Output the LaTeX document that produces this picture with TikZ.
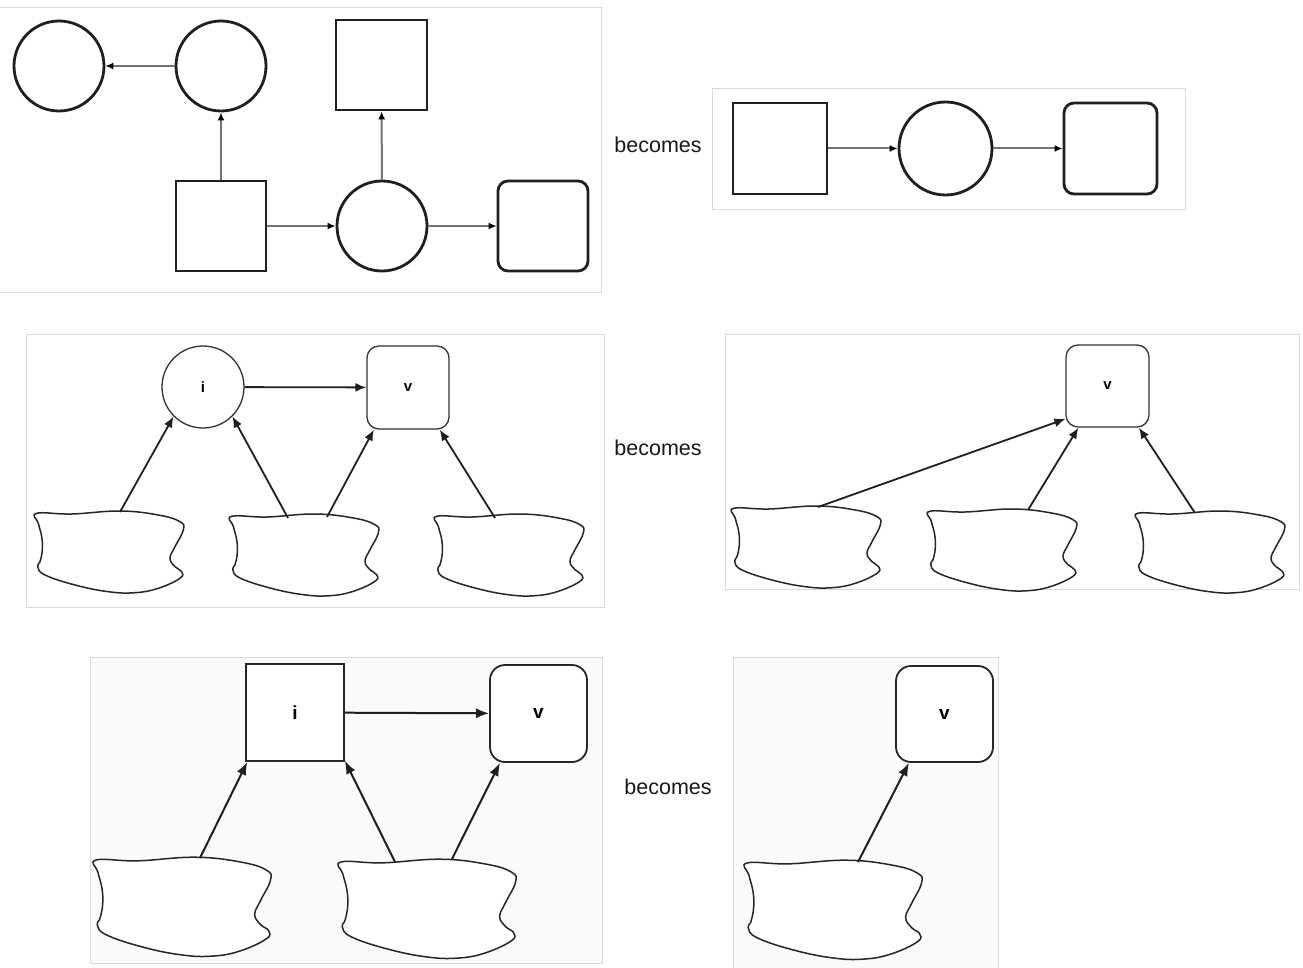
\documentclass[tikz,border=0pt]{standalone}
\usepackage{fontspec}
\setmainfont{Liberation Sans}
\usetikzlibrary{arrows.meta}
\tikzset{
  frame/.style={draw=black!14, line width=1pt},
  thick1/.style={draw=black!88, line width=2.8pt, inner sep=0pt, fill=white},
  thin3/.style={draw=black!80, line width=1.3pt, inner sep=0pt, fill=white},
  mid5/.style={draw=black!85, line width=1.8pt, inner sep=0pt, fill=white},
  arrA/.style={draw=black!55, line width=2pt, -{Latex[length=8pt,width=7pt,fill=black,color=black]}},
  arrB/.style={draw=black!88, line width=1.8pt, -{Latex[length=11pt,width=9pt]}},
  arrC/.style={draw=black!88, line width=2pt, -{Latex[length=13pt,width=10pt]}},
  cloudline/.style={draw=black!85, line width=1.5pt, fill=white},
  lab3/.style={font=\fontsize{15}{17}\selectfont\bfseries},
  lab5/.style={font=\fontsize{19}{21}\selectfont\bfseries},
  becomestext/.style={font=\fontsize{21.5}{24}\selectfont, text=black!90},
  cloud/.pic={
    \path[cloudline] plot[smooth cycle, tension=0.7] coordinates {
      (1.7,3.3) (36.7,4) (85,1) (123.3,5) (145,11.7) (148.3,20) (140,36.7)
      (135,48.3) (140,56.7) (146.7,61.7) (145,68.3) (123.3,78.3) (100,82.7)
      (73.3,81.7) (40,75) (10,65) (2.7,56.7) (5,51.7) (7.3,40) (6.7,26.7) (3.3,13.3)};
  }
}
\begin{document}
\begin{tikzpicture}[x=1pt,y=-1pt]
\useasboundingbox (0,0) rectangle (1303,968);
\clip (0,0) rectangle (1303,968);
% frames
\draw[frame, fill=white] (-2,8) rectangle (601,292);
\draw[frame, fill=white] (712,89) rectangle (1185,210);
\draw[frame, fill=white] (26,334) rectangle (604,607);
\draw[frame, fill=white] (725,334) rectangle (1299,589);
\draw[frame, fill=black!2] (90,657) rectangle (602,963);
\draw[frame, fill=black!2] (733,657) rectangle (998,972);

% becomes
\node[becomestext] (b1) at (658,145) {becomes};
\node[becomestext] (b2) at (658,448) {becomes};
\node[becomestext] (b3) at (668,787) {becomes};

% panel 1
\node[thick1, circle, minimum size=90pt] (A) at (59,66) {};
\node[thick1, circle, minimum size=90pt] (B) at (221,66) {};
\node[thick1, rectangle, minimum width=91pt, minimum height=90pt] (C) at (381.5,65) {};
\node[thick1, rectangle, minimum width=90pt, minimum height=90pt] (D) at (221,226) {};
\node[thick1, circle, minimum size=90pt] (E) at (382,226) {};
\node[thick1, rectangle, rounded corners=10pt, minimum width=90pt, minimum height=90pt] (F) at (543,226) {};
\draw[arrA] (B) -- (A);
\draw[arrA] (D) -- (B);
\draw[arrA] (D) -- (E);
\draw[arrA] (E) -- (C);
\draw[arrA] (E) -- (F);

% panel 2
\node[thick1, rectangle, minimum width=94pt, minimum height=91pt] (S2) at (780,148.5) {};
\node[thick1, circle, minimum size=93pt] (C2) at (945.5,148.5) {};
\node[thick1, rectangle, rounded corners=10pt, minimum width=93pt, minimum height=91pt] (R2) at (1110.5,148.5) {};
\draw[arrA] (S2) -- (C2);
\draw[arrA] (C2) -- (R2);

% panel 3
\pic at (35,510) {cloud};
\pic at (230,513) {cloud};
\pic at (435,513) {cloud};
\node[thin3, circle, minimum size=82pt, lab3] (i3) at (203,387) {i};
\node[thin3, rectangle, rounded corners=12pt, minimum width=82pt, minimum height=83pt, lab3] (v3) at (408,387.5) {v};
\coordinate (t31) at (120,512);
\coordinate (t32a) at (288,518);
\coordinate (t32b) at (327,517);
\coordinate (t33) at (495,518);
\draw[arrB] (i3) -- (v3);
\draw[arrB] (t31) -- (i3.225);
\draw[arrB] (t32a) -- (i3.315);
\draw[arrB] (t32b) -- (v3.231);
\draw[arrB] (t33) -- (v3.307);

% panel 4
\pic at (732,505) {cloud};
\pic at (928,508) {cloud};
\pic at (1136,510) {cloud};
\node[thin3, rectangle, rounded corners=12pt, minimum width=83pt, minimum height=82pt, lab3] (v4) at (1107.5,386) {v};
\coordinate (t41) at (818,507);
\coordinate (t42) at (1028,510);
\coordinate (t43) at (1195,513);
\draw[arrB] (t41) -- (v4.218);
\draw[arrB] (t42) -- (v4.235);
\draw[arrB] (t43) -- (v4.307);

% panel 5
\pic[xscale=1.19, yscale=1.21] at (94,856) {cloud};
\pic[xscale=1.19, yscale=1.21] at (339,858) {cloud};
\node[mid5, rectangle, minimum width=98pt, minimum height=97pt, lab5] (i5) at (295,712.5) {i};
\node[mid5, rectangle, rounded corners=15pt, minimum width=97pt, minimum height=97pt, lab5] (v5) at (538.5,713.5) {v};
\coordinate (t51) at (200,858);
\coordinate (t52a) at (395,862);
\coordinate (t52b) at (452,859);
\draw[arrC] (i5) -- (v5);
\draw[arrC] (t51) -- (i5.226);
\draw[arrC] (t52a) -- (i5.316);
\draw[arrC] (t52b) -- (v5.232);

% panel 6
\pic[xscale=1.19, yscale=1.21] at (745,859) {cloud};
\node[mid5, rectangle, rounded corners=15pt, minimum width=97pt, minimum height=96pt, lab5] (v6) at (944.5,714) {v};
\coordinate (t61) at (858,862);
\draw[arrC] (t61) -- (v6.234);
\end{tikzpicture}
\end{document}
